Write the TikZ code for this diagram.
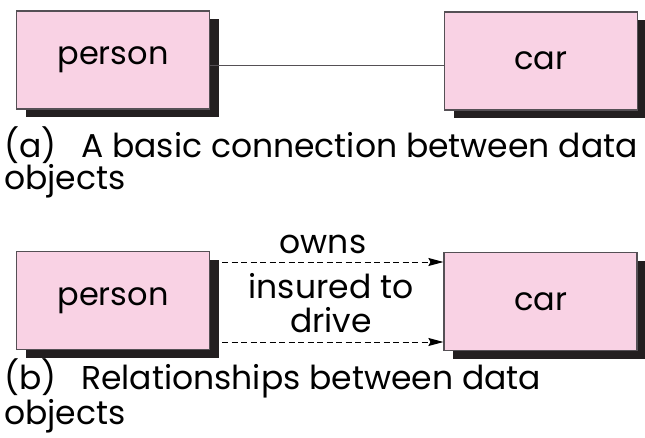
\documentclass[tikz,border=0pt]{standalone}
\usepackage{fontspec}
\setmainfont{Poppins}
\usetikzlibrary{arrows.meta,shadows}

\definecolor{boxpink}{RGB}{249,210,228}
\definecolor{boxedge}{RGB}{85,80,85}
\definecolor{shade}{RGB}{35,31,32}

\tikzset{
    entity/.style={draw=boxedge, line width=1.2pt, fill=boxpink,
        minimum width=193pt, minimum height=98pt, inner sep=0pt,
        font=\fontsize{32}{34}\selectfont,
        drop shadow={shadow xshift=9pt, shadow yshift=-8pt, fill=shade, opacity=1}},
    caption/.style={anchor=base west, align=left, inner sep=0pt,
        font=\fontsize{33}{30}\selectfont},
    rel/.style={line width=1pt, dash pattern=on 6pt off 3.5pt,
        -{Stealth[length=15pt, width=8pt, inset=2pt]}},
    lbl/.style={anchor=base, inner sep=0pt, font=\fontsize{33}{34}\selectfont}
}

\begin{document}
\begin{tikzpicture}[x=1pt, y=1pt]
    \useasboundingbox (0, 0) rectangle (645, 437);

    % (a) basic connection
    \node [entity] (pa) at (113, 377) {person};
    \node [entity] (ca) at (541, 376) {car};
    \draw [line width=1pt, boxedge] ([yshift=-6pt]pa.east) -- ([yshift=-5pt]ca.west);
    \node [caption] (capa) at (4, 247) {(a)\hspace{0.75em}A basic connection between data\\objects};

    % (b) relationships
    \node [entity] (pb) at (113, 136.5) {person};
    \node [entity] (cb) at (540.5, 135.5) {car};
    \draw [rel] ([xshift=12pt, yshift=38.5pt]pb.east) -- ([yshift=39.5pt]cb.west);
    \draw [rel] ([xshift=12pt, yshift=-41.5pt]pb.east) -- ([yshift=-40.5pt]cb.west);
    \node [lbl] (owns) at (323, 184) {owns};
    \node [lbl] (insured) at (331, 139) {insured to};
    \node [lbl] (drive) at (331, 105) {drive};
    \node [caption] (capb) at (4, 13) {(b)\hspace{0.75em}Relationships between data\\objects};
\end{tikzpicture}
\end{document}
